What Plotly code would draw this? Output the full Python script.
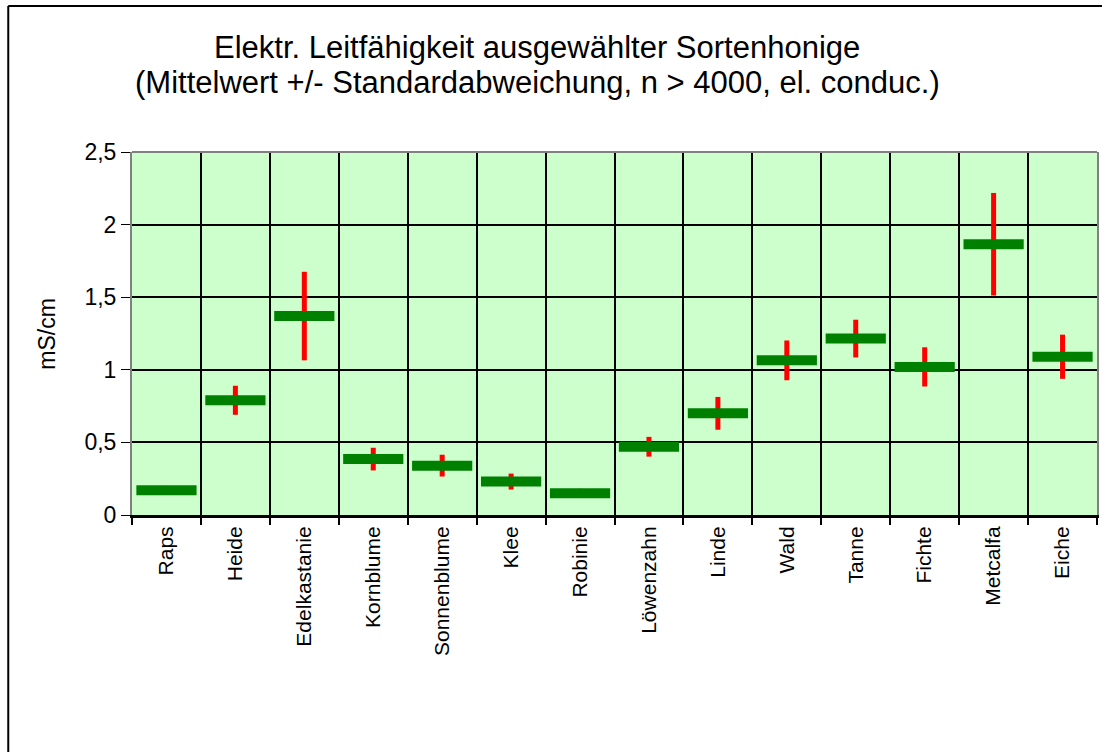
import plotly.graph_objects as go

# Sortenhonige und Messwerte (mS/cm)
sorten = ["Raps", "Heide", "Edelkastanie", "Kornblume", "Sonnenblume", "Klee", "Robinie",
          "Löwenzahn", "Linde", "Wald", "Tanne", "Fichte", "Metcalfa", "Eiche"]
mittelwert = [0.17, 0.79, 1.37, 0.385, 0.34, 0.23, 0.15, 0.47, 0.70, 1.065, 1.215, 1.02, 1.865, 1.09]
std_abw = [0.03, 0.10, 0.305, 0.078, 0.075, 0.055, 0.03, 0.068, 0.113, 0.137, 0.13, 0.135, 0.353, 0.152]

y_ticks = [0, 0.5, 1, 1.5, 2, 2.5]

titel = ["Elektr. Leitfähigkeit ausgewählter Sortenhonige",
         "(Mittelwert +/- Standardabweichung, n > 4000, el. conduc.)"]

W, H = 1109, 752
# Zeichenfläche in Pixeln
PL, PR, PT, PB = 132, 1099, 152, 515


def px_x(px):
    return (px - PL) / (PR - PL)


def px_y(py):
    return (PB - py) / (PB - PT)


fig = go.Figure()

fig.add_trace(
    go.Scatter(
        x=sorten,
        y=mittelwert,
        mode="markers",
        marker=dict(symbol="line-ew", size=43, color="#008000",
                    line=dict(color="#008000", width=10)),
        error_y=dict(type="data", array=std_abw, visible=True,
                     color="#FF0000", thickness=5, width=0),
        showlegend=False,
        hoverinfo="x+y",
    )
)

fig.update_layout(
    width=W,
    height=H,
    margin=dict(l=PL, r=W - PR, t=PT, b=H - PB),
    paper_bgcolor="white",
    plot_bgcolor="#CCFFCC",
    separators=", ",
    font=dict(family="Liberation Sans, Arial, sans-serif", color="black"),
    xaxis=dict(
        type="category",
        tickson="boundaries",
        showgrid=True, gridcolor="black", gridwidth=1.5,
        ticks="outside", ticklen=7, tickcolor="black", tickwidth=2,
        tickangle=-90,
        tickfont=dict(size=21, color="black"),
        showline=True, linecolor="black", linewidth=3,
        zeroline=False,
        range=[-0.5, len(sorten) - 0.5],
    ),
    yaxis=dict(
        range=[0, 2.5],
        tickvals=y_ticks,
        showgrid=True, gridcolor="black", gridwidth=1.5,
        ticks="outside", ticklen=9, tickcolor="black",
        tickfont=dict(size=23, color="black"),
        showline=True, linecolor="#808080", linewidth=2, mirror=True,
        zeroline=False,
    ),
)

# Titel in zwei Zeilen
for text, py in zip(titel, [47, 83]):
    fig.add_annotation(
        text=text, showarrow=False,
        xref="paper", yref="paper", x=px_x(538), y=px_y(py),
        xanchor="center", yanchor="middle",
        font=dict(size=31, color="black"),
    )

# y-Achsentitel
fig.add_annotation(
    text="mS/cm", textangle=-90, showarrow=False,
    xref="paper", yref="paper", x=px_x(46), y=0.5,
    xanchor="center", yanchor="middle",
    font=dict(size=23, color="black"),
)

# obere Kante der Zeichenfläche (grau)
fig.add_shape(type="line", xref="paper", yref="paper", x0=0, x1=1, y0=1, y1=1,
              line=dict(color="#808080", width=2))

# Diagrammrahmen links und oben
fig.add_shape(type="line", xref="paper", yref="paper",
              x0=px_x(8), x1=px_x(8), y0=px_y(6), y1=px_y(760),
              line=dict(color="black", width=2))
fig.add_shape(type="line", xref="paper", yref="paper",
              x0=px_x(8), x1=px_x(1104), y0=px_y(6), y1=px_y(6),
              line=dict(color="black", width=2))

# Seitenrand entfernen, damit die Grafik bei (0,0) beginnt
fig.write_html("out.html", config={"displayModeBar": False},
               post_script="document.body.style.margin='0px';")
